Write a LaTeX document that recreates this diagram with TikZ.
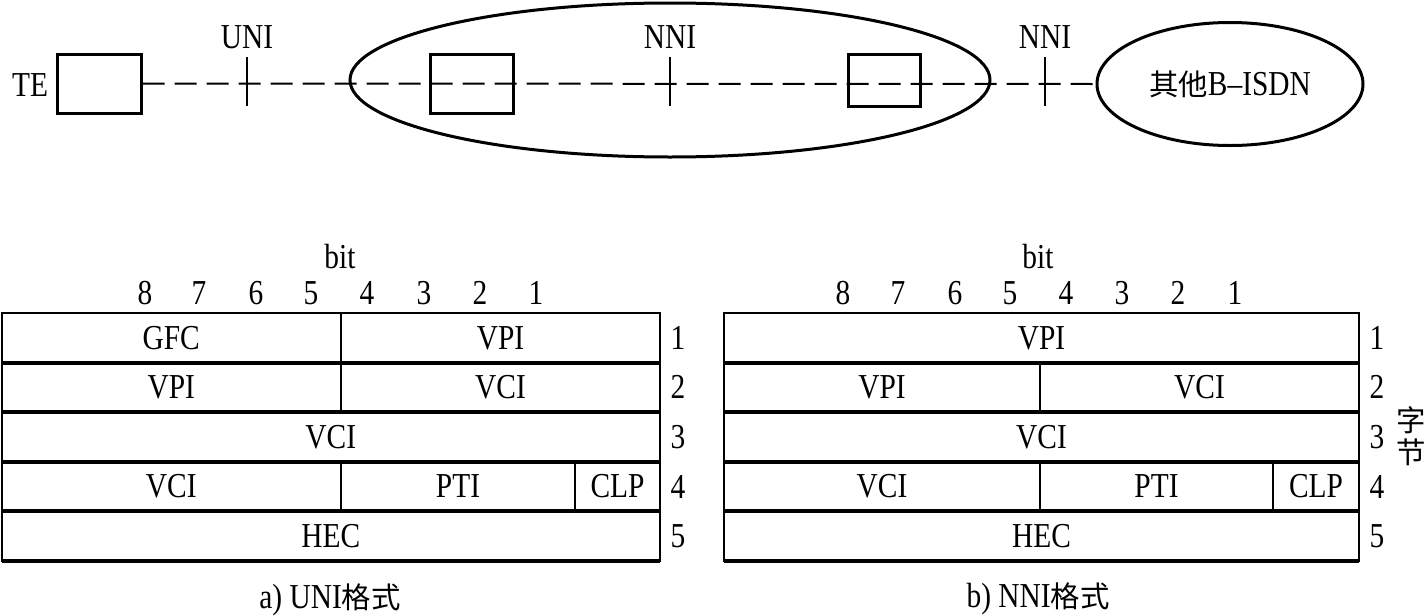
\documentclass[tikz,border=0pt]{standalone}
\usepackage{fontspec}
\setmainfont[FakeStretch=0.84]{Liberation Serif}
\newfontfamily\cjk[Scale=0.84]{Noto Sans CJK SC}
\usetikzlibrary{shapes.geometric}
\tikzset{
  px/.style={x=0.5pt,y=-0.5pt},
  lab/.style={inner sep=0pt,font=\fontsize{17.5}{20}\selectfont},
  boxnode/.style={draw,line width=1.5pt,inner sep=0pt},
  ovalnode/.style={draw,ellipse,line width=1.5pt,inner sep=0pt},
  dashline/.style={line width=1pt,dash pattern=on 11pt off 5pt},
  tick/.style={line width=1pt},
  tab/.style={line width=1pt},
  rowline/.style={line width=1.8pt},
}
\newcommand\cellbox[5]{\draw[tab] (#1,#2) rectangle (#3,#4); \node[lab] at ({(#1+#3)/2},{(#2+#4)/2}) {#5};}
\begin{document}
\begin{tikzpicture}[px]
\useasboundingbox (0,0) rectangle (1426,616);
% top network
\node[boxnode,minimum width=42pt,minimum height=29.5pt] (te) at (99,83.5) {};
\node[lab] (telab) at (30,85) {TE};
\node[ovalnode,minimum width=320pt,minimum height=77pt] (net) at (670,80) {};
\node[boxnode,minimum width=41.5pt,minimum height=29.5pt] (sw1) at (471.5,83.5) {};
\node[boxnode,minimum width=36pt,minimum height=26pt] (sw2) at (884.5,80) {};
\node[ovalnode,minimum width=133pt,minimum height=61.5pt,lab] (other) at (1230,84) {{\cjk 其他}B–ISDN};
\draw[dashline] (te.east) -- (other.west);
\coordinate (u1) at (247,57); \coordinate (u2) at (247,106);
\coordinate (n1) at (670,57); \coordinate (n2) at (670,106);
\coordinate (m1) at (1045,57); \coordinate (m2) at (1045,106);
\draw[tick] (u1) -- (u2);
\draw[tick] (n1) -- (n2);
\draw[tick] (m1) -- (m2);
\node[lab] (unilab) at (247,37) {UNI};
\node[lab] (nnilab1) at (670,37) {NNI};
\node[lab] (nnilab2) at (1045,37) {NNI};
% left table
\node[lab] (bitL) at (340,257) {bit};
\foreach \d/\x in {8/145,7/199,6/256,5/311,4/367,3/424,2/480,1/536}
  \node[lab] at (\x,293) {\d};
\cellbox{1.5}{313}{341}{363}{GFC}
\cellbox{341}{313}{660}{363}{VPI}
\cellbox{1.5}{363}{341}{412}{VPI}
\cellbox{341}{363}{660}{412}{VCI}
\cellbox{1.5}{412}{660}{462}{VCI}
\cellbox{1.5}{462}{341}{511}{VCI}
\cellbox{341}{462}{575}{511}{PTI}
\cellbox{575}{462}{660}{511}{CLP}
\cellbox{1.5}{511}{660}{561}{HEC}
\foreach \y in {363,412,462,511,561}
  \draw[rowline] (1.5,\y) -- (660,\y);
\foreach \n/\y in {1/338,2/387,3/437,4/487,5/536}
  \node[lab] at (678,\y) {\n};
\node[lab] (capA) at (330,600) {a) UNI{\cjk 格式}};
% right table
\node[lab] (bitR) at (1038,257) {bit};
\foreach \d/\x in {8/843,7/898,6/955,5/1010,4/1066,3/1122,2/1178,1/1235}
  \node[lab] at (\x,293) {\d};
\cellbox{724}{313}{1359}{363}{VPI}
\cellbox{724}{363}{1040}{412}{VPI}
\cellbox{1040}{363}{1359}{412}{VCI}
\cellbox{724}{412}{1359}{462}{VCI}
\cellbox{724}{462}{1040}{511}{VCI}
\cellbox{1040}{462}{1273}{511}{PTI}
\cellbox{1273}{462}{1359}{511}{CLP}
\cellbox{724}{511}{1359}{561}{HEC}
\foreach \y in {363,412,462,511,561}
  \draw[rowline] (724,\y) -- (1359,\y);
\foreach \n/\y in {1/338,2/387,3/437,4/487,5/536}
  \node[lab] at (1377,\y) {\n};
\node[lab] (zi) at (1411,420) {\cjk 字};
\node[lab] (jie) at (1411,452) {\cjk 节};
\node[lab] (capB) at (1038,599) {b) NNI{\cjk 格式}};
\end{tikzpicture}
\end{document}
